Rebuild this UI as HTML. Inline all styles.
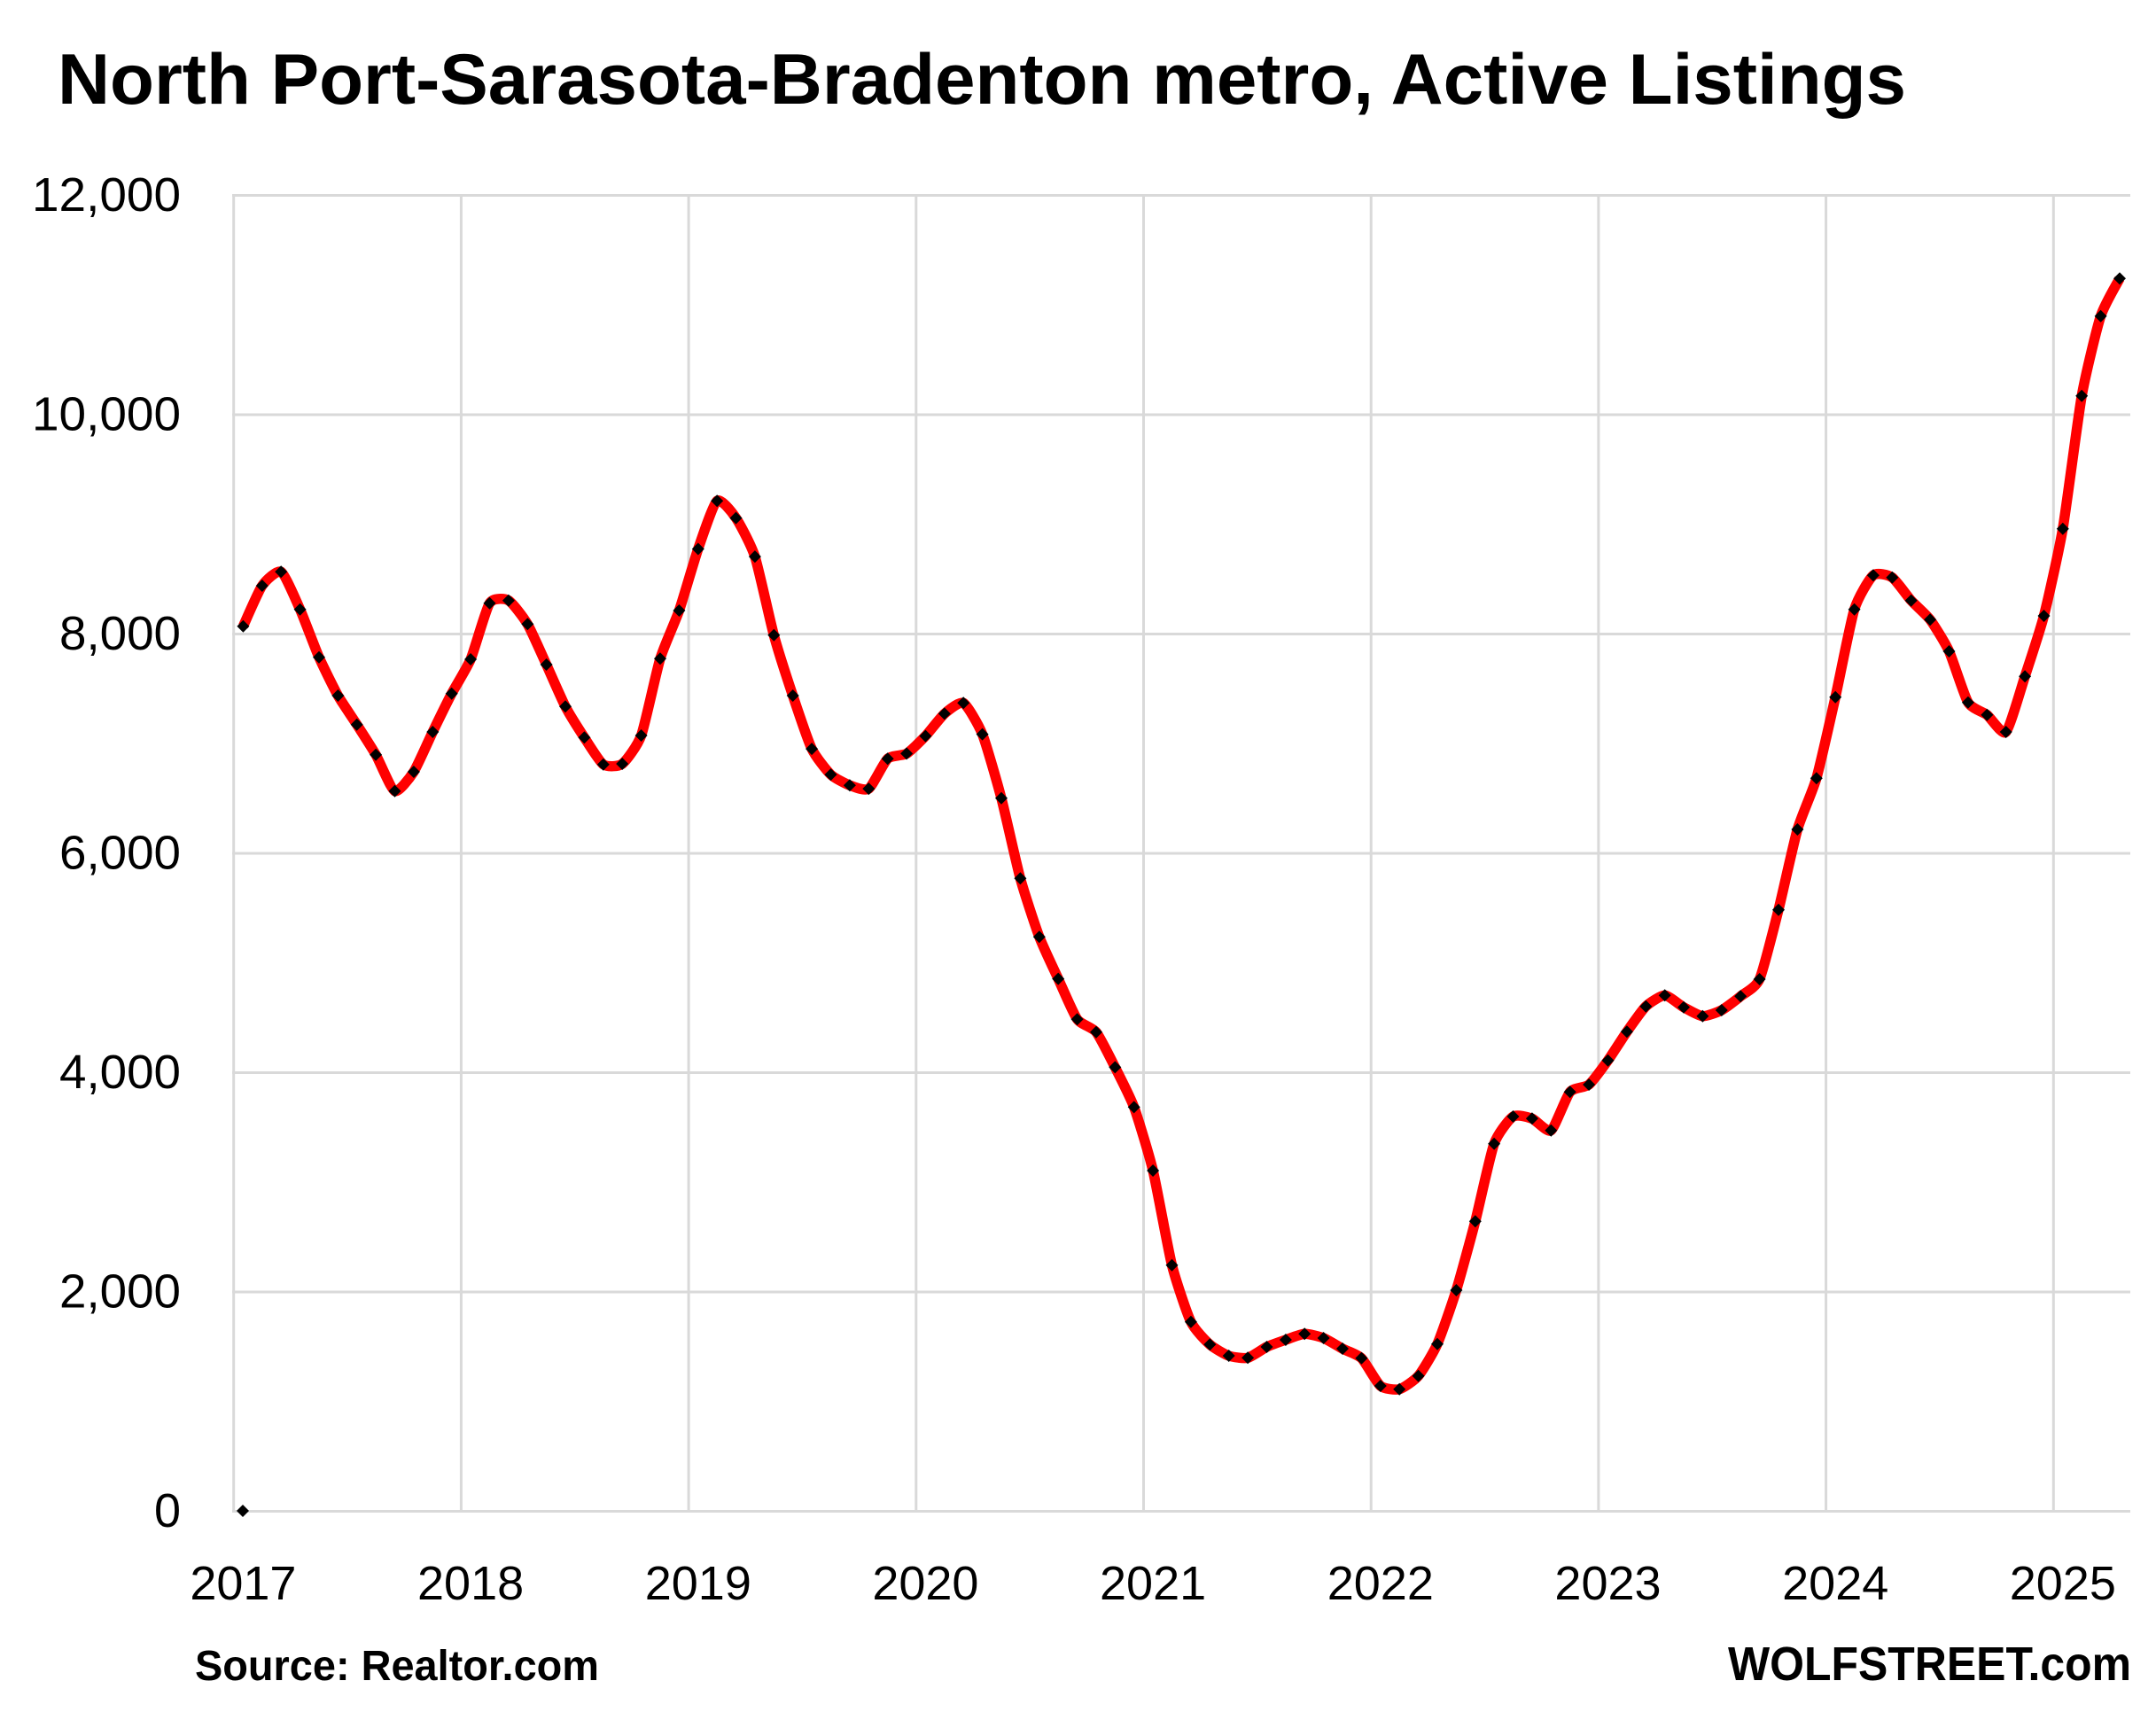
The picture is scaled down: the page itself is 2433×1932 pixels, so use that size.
<!DOCTYPE html>
<html>
<head>
<meta charset="utf-8">
<style>
html,body{margin:0;padding:0;background:#fff;}
svg{display:block;}
text{font-family:"Liberation Sans",Arial,sans-serif;fill:#000;}
</style>
</head>
<body>
<svg id="chart" width="2433" height="1932" viewBox="0 0 2433 1932" xmlns="http://www.w3.org/2000/svg">
<defs>
<marker id="dm" markerUnits="userSpaceOnUse" markerWidth="16" markerHeight="16" viewBox="-8 -8 16 16" refX="0" refY="0" orient="0">
<path d="M0,-7 L7,0 L0,7 L-7,0 Z" fill="#000"/>
</marker>
</defs>
<rect x="0" y="0" width="2433" height="1932" fill="#fff"/>

<!-- Title -->
<text x="65" y="117" font-size="81" font-weight="bold" textLength="2086" lengthAdjust="spacingAndGlyphs">North Port-Sarasota-Bradenton metro, Active Listings</text>

<!-- Gridlines -->
<g stroke="#d9d9d9" stroke-width="3" fill="none">
<line x1="262" y1="220.5" x2="2404" y2="220.5"/>
<line x1="262" y1="468" x2="2404" y2="468"/>
<line x1="262" y1="715.5" x2="2404" y2="715.5"/>
<line x1="262" y1="963" x2="2404" y2="963"/>
<line x1="262" y1="1210.5" x2="2404" y2="1210.5"/>
<line x1="262" y1="1458" x2="2404" y2="1458"/>
<line x1="262" y1="1705.5" x2="2404" y2="1705.5"/>
<line x1="263.7" y1="220.5" x2="263.7" y2="1705.5"/>
<line x1="520.4" y1="220.5" x2="520.4" y2="1705.5"/>
<line x1="777.1" y1="220.5" x2="777.1" y2="1705.5"/>
<line x1="1033.8" y1="220.5" x2="1033.8" y2="1705.5"/>
<line x1="1290.5" y1="220.5" x2="1290.5" y2="1705.5"/>
<line x1="1547.2" y1="220.5" x2="1547.2" y2="1705.5"/>
<line x1="1803.9" y1="220.5" x2="1803.9" y2="1705.5"/>
<line x1="2060.6" y1="220.5" x2="2060.6" y2="1705.5"/>
<line x1="2317.3" y1="220.5" x2="2317.3" y2="1705.5"/>
</g>

<!-- Y axis labels -->
<g font-size="54" text-anchor="end">
<text x="204" y="238" textLength="168" lengthAdjust="spacingAndGlyphs">12,000</text>
<text x="204" y="485.5" textLength="168" lengthAdjust="spacingAndGlyphs">10,000</text>
<text x="204" y="733" textLength="137" lengthAdjust="spacingAndGlyphs">8,000</text>
<text x="204" y="980.5" textLength="137" lengthAdjust="spacingAndGlyphs">6,000</text>
<text x="204" y="1228" textLength="137" lengthAdjust="spacingAndGlyphs">4,000</text>
<text x="204" y="1475.5" textLength="137" lengthAdjust="spacingAndGlyphs">2,000</text>
<text x="204" y="1723">0</text>
</g>

<!-- X axis labels -->
<g font-size="54" text-anchor="middle">
<text x="274.4" y="1805">2017</text>
<text x="531.1" y="1805">2018</text>
<text x="787.8" y="1805">2019</text>
<text x="1044.4" y="1805">2020</text>
<text x="1301.1" y="1805">2021</text>
<text x="1557.8" y="1805">2022</text>
<text x="1814.5" y="1805">2023</text>
<text x="2071.2" y="1805">2024</text>
<text x="2327.8" y="1805">2025</text>
</g>

<!-- Series -->
<polyline id="series" fill="none" stroke="#ff0000" stroke-width="11.5" stroke-linejoin="round" stroke-linecap="butt"
marker-start="url(#dm)" marker-mid="url(#dm)" marker-end="url(#dm)"
points="274.4,706.7 295.8,661 317.2,645.3 338.6,687.7 360,741.7 381.4,785 402.7,817.7 424.1,851.7 445.5,892.7 466.9,871 488.3,826 509.7,782.7 531.1,744 552.5,680.7 573.9,677.7 595.3,704.3 616.6,750 638,797.3 659.4,832.3 680.8,862.7 702.2,862 723.6,830 745,743.3 766.4,689 787.8,619.5 809.2,565.2 830.5,584.6 851.9,628.1 873.3,716.8 894.7,785 916.1,845.1 937.5,874.1 958.9,886.2 980.3,890.1 1001.7,856.2 1023.1,850.4 1044.4,830.6 1065.8,805.4 1087.2,793.3 1108.6,828.6 1130,900.8 1151.4,991.3 1172.8,1057.2 1194.2,1104.6 1215.6,1150.2 1237,1164.7 1258.3,1204.4 1279.7,1249.4 1301.1,1321 1322.5,1427.7 1343.9,1491.7 1365.3,1517.3 1386.7,1530 1408.1,1532.3 1429.5,1520 1450.9,1512 1472.2,1505.3 1493.6,1510 1515,1522 1536.4,1532.7 1557.8,1564 1579.2,1567.7 1600.6,1552.7 1622,1516.7 1643.4,1456 1664.8,1378.3 1686.1,1290.7 1707.5,1260 1728.9,1262.3 1750.3,1275.7 1771.7,1232.3 1793.1,1224 1814.5,1196.7 1835.9,1164.3 1857.3,1135.7 1878.7,1123.3 1900,1136.7 1921.4,1146.7 1942.8,1140 1964.2,1124.3 1985.6,1105 2007,1026.7 2028.4,936 2049.8,878.3 2071.2,786.7 2092.6,687.7 2113.9,649.3 2135.3,651.7 2156.7,677.7 2178.1,699.3 2199.5,735 2220.9,792.7 2242.3,806.7 2263.7,826 2285.1,763.3 2306.5,695 2327.8,596.7 2349.2,446.7 2370.6,356.7 2392,314.3"/>

<!-- stray zero marker -->
<path d="M274,1698 L281,1705 L274,1712 L267,1705 Z" fill="#000"/>

<!-- Footer -->
<text x="220" y="1896" font-size="48" font-weight="bold" textLength="456" lengthAdjust="spacingAndGlyphs">Source: Realtor.com</text>
<text x="1950" y="1896" font-size="54" font-weight="bold" textLength="455" lengthAdjust="spacingAndGlyphs">WOLFSTREET.com</text>
</svg>
<script>
(function(){
  try{
    var pl=document.getElementById('series');
    var raw=pl.getAttribute('points').trim().split(/\s+/);
    var p=raw.map(function(s){var a=s.split(',');return [parseFloat(a[0]),parseFloat(a[1])];});
    var n=p.length, t=0.1;
    var d='M'+p[0][0]+','+p[0][1];
    for(var i=0;i<n-1;i++){
      var p0=p[i>0?i-1:i], p1=p[i], p2=p[i+1], p3=p[i+2<n?i+2:i+1];
      var c1x=p1[0]+(p2[0]-p0[0])*t, c1y=p1[1]+(p2[1]-p0[1])*t;
      var c2x=p2[0]-(p3[0]-p1[0])*t, c2y=p2[1]-(p3[1]-p1[1])*t;
      d+=' C'+c1x.toFixed(2)+','+c1y.toFixed(2)+' '+c2x.toFixed(2)+','+c2y.toFixed(2)+' '+p2[0]+','+p2[1];
    }
    var ns='http://www.w3.org/2000/svg';
    var path=document.createElementNS(ns,'path');
    ['fill','stroke','stroke-width','stroke-linejoin','stroke-linecap','marker-start','marker-mid','marker-end'].forEach(function(a){path.setAttribute(a,pl.getAttribute(a));});
    path.setAttribute('d',d);
    pl.parentNode.replaceChild(path,pl);
  }catch(e){}
})();
</script>
</body>
</html>
